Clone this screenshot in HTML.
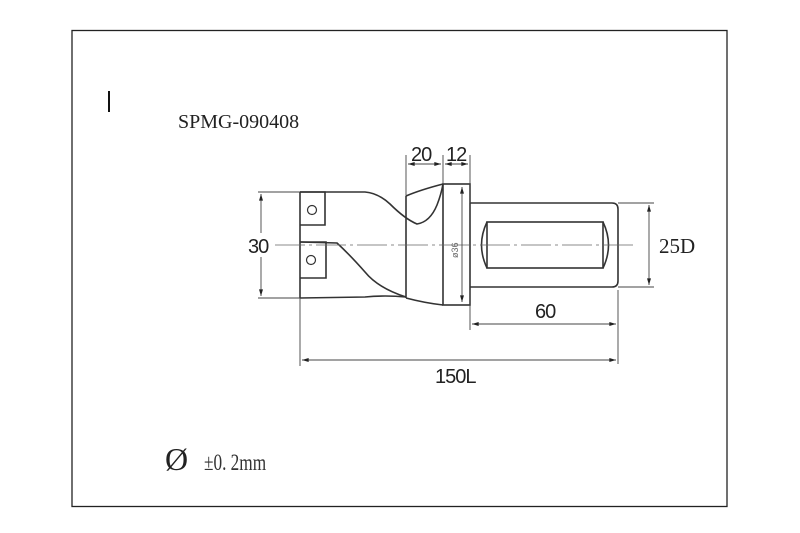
<!DOCTYPE html>
<html><head><meta charset="utf-8"><style>
html,body{margin:0;padding:0;background:#fff;}
svg{display:block}
</style></head><body>
<svg width="800" height="533" viewBox="0 0 800 533" xmlns="http://www.w3.org/2000/svg">
<defs>
<marker id="a" viewBox="0 0 10 6" refX="10" refY="3" markerWidth="8" markerHeight="4" orient="auto-start-reverse" markerUnits="userSpaceOnUse"><path d="M0,0 L10,3 L0,6z" fill="#222"/></marker>
</defs>
<rect x="72" y="30.5" width="655" height="476" fill="none" stroke="#222" stroke-width="1.3"/>
<line x1="109" y1="91" x2="109" y2="112" stroke="#111" stroke-width="2"/>
<text x="178" y="128" font-family="Liberation Serif, serif" font-size="20" fill="#222">SPMG-090408</text>

<g fill="none" stroke="#333" stroke-width="1.6">
<!-- head top edge + upper flute -->
<path d="M300,192 L365,192 Q378,193 390,204 Q405,219 417,224 Q430,222 437,205 Q441,195 443,184"/>
<line x1="300" y1="192" x2="300" y2="298"/>
<path d="M300,298 L365,297 Q385,295 406,297"/>
<!-- inserts -->
<path d="M300,192 L325,192 L325,225 L300,225"/>
<path d="M300,242 L326,242 L326,278 L300,278"/>
<circle cx="312" cy="210" r="4.5" stroke-width="1.2"/>
<circle cx="311" cy="260" r="4.5" stroke-width="1.2"/>
<!-- lower flute -->
<path d="M300,242 L337,243 Q350,255 365,272 Q378,288 406,297"/>
<!-- body -->
<line x1="406" y1="196" x2="406" y2="298"/>
<path d="M406,196 Q420,190 443,184"/>
<path d="M406,298 Q425,303 443,305"/>
<!-- flange -->
<rect x="443" y="184" width="27" height="121"/>
<!-- shank -->
<path d="M470,203 L612,203 Q618,203 618,209 L618,281 Q618,287 612,287 L470,287"/>
<rect x="487" y="222" width="116" height="46"/>
<path d="M487,222 Q476,245 487,268"/>
<path d="M603,222 Q614,245 603,268"/>
</g>
<line x1="275" y1="245" x2="635" y2="245" stroke="#666" stroke-width="0.8" stroke-dasharray="30,4,3,4"/>

<g stroke="#444" stroke-width="0.9" fill="none">
<line x1="258" y1="192" x2="300" y2="192"/>
<line x1="258" y1="298" x2="300" y2="298"/>
<line x1="261" y1="194" x2="261" y2="233" marker-start="url(#a)"/>
<line x1="261" y1="257" x2="261" y2="296" marker-end="url(#a)"/>
<line x1="406" y1="155" x2="406" y2="196"/>
<line x1="443" y1="155" x2="443" y2="184"/>
<line x1="470" y1="155" x2="470" y2="203"/>
<line x1="408" y1="164" x2="441" y2="164" marker-start="url(#a)" marker-end="url(#a)"/>
<line x1="445" y1="164" x2="468" y2="164" marker-start="url(#a)" marker-end="url(#a)"/>
<line x1="462" y1="187" x2="462" y2="302" marker-start="url(#a)" marker-end="url(#a)"/>
<line x1="618" y1="203" x2="654" y2="203"/>
<line x1="618" y1="287" x2="654" y2="287"/>
<line x1="649" y1="205" x2="649" y2="285" marker-start="url(#a)" marker-end="url(#a)"/>
<line x1="470" y1="290" x2="470" y2="330"/>
<line x1="618" y1="290" x2="618" y2="364"/>
<line x1="472" y1="324" x2="616" y2="324" marker-start="url(#a)" marker-end="url(#a)"/>
<line x1="300" y1="298" x2="300" y2="366"/>
<line x1="302" y1="360" x2="616" y2="360" marker-start="url(#a)" marker-end="url(#a)"/>
</g>

<g font-family="Liberation Sans, sans-serif" fill="#222">
<text x="248" y="253" font-size="20" letter-spacing="-1">30</text>
<text x="411" y="161" font-size="20" letter-spacing="-1">20</text>
<text x="446" y="161" font-size="20" letter-spacing="-1">12</text>
<text x="535" y="318" font-size="20" letter-spacing="-1">60</text>
<text x="435" y="383" font-size="20" letter-spacing="-1">150L</text>
<text transform="translate(458,258) rotate(-90)" font-size="9" fill="#666">ø36</text>
</g>
<text x="659" y="253" font-family="Liberation Serif, serif" font-size="21" fill="#222">25D</text>
<text x="165" y="470" font-family="Liberation Serif, serif" font-size="32" fill="#222">Ø</text>
<text x="204" y="470" font-family="Liberation Serif, serif" font-size="23" fill="#333" transform="translate(204,0) scale(0.75,1) translate(-204,0)">±0. 2mm</text>
</svg>
</body></html>
